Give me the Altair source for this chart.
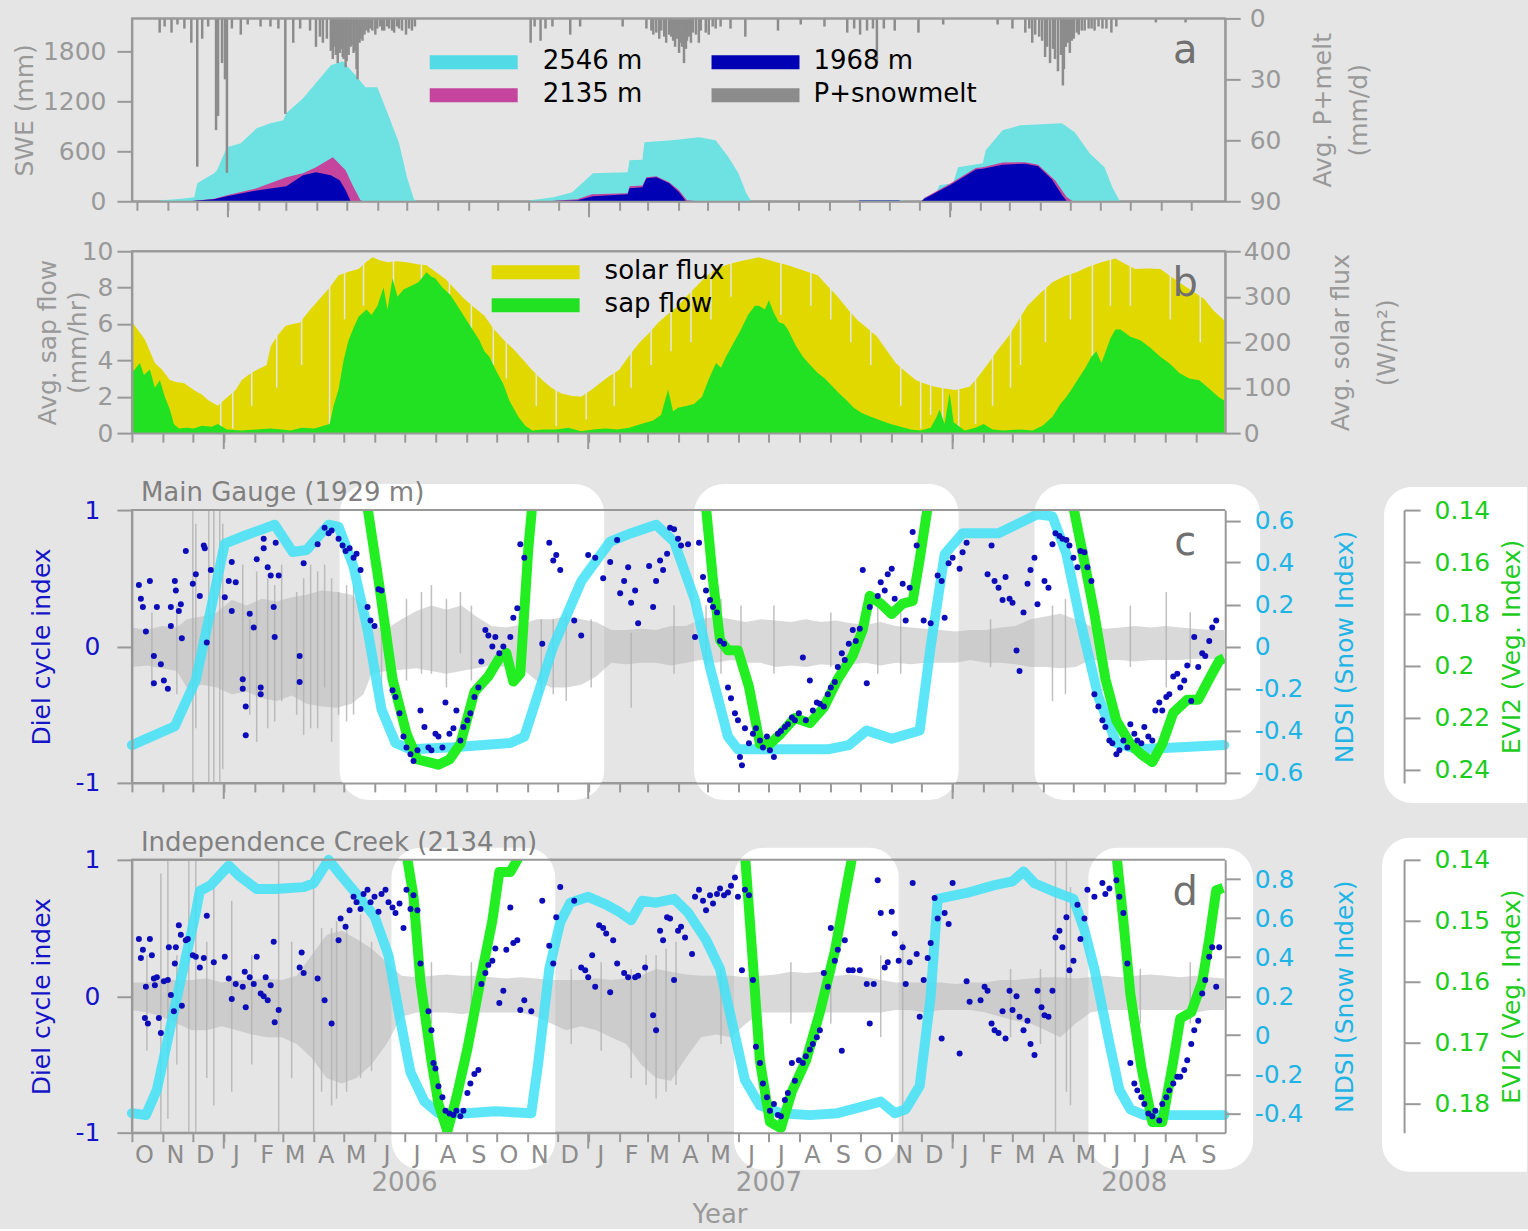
import altair as alt
import pandas as pd

FONT = "DejaVu Sans"
BG = "#E5E5E5"
FRAME = "#999999"
TXT = "#999999"
W = 1094
H_A, H_B, H_C, H_D = 183, 182, 273, 273

C_2546, C_2135, C_1968, C_P = "#6EE2E2", "#C4449E", "#0000B4", "#8C8C8C"
C_SOLAR, C_SAP = "#E1D800", "#22E122"
C_NDSI, C_NDSI_TXT = "#40E2F7", "#1EB4E6"
C_EVI, C_EVI_TXT = "#22EE22", "#1ECC1E"
C_DOT, C_DIEL_TXT = "#0C0CB8", "#1414C8"

# day 0 of the record = 1 Oct 2005 (start of water year 2006)
START = pd.Timestamp("2005-10-01")

# ---------------- panel a: snow water equivalent (mm) and P+snowmelt (mm/d)
SWE_2546 = [(0, 0), (22, 4), (25, 12), (45, 30), (58, 48), (61, 216), (78, 336), (81, 372), (91, 648),
            (105, 696), (121, 876), (135, 936), (148, 972), (151, 1056), (168, 1236), (185, 1476),
            (196, 1632), (208, 1680), (221, 1512), (231, 1368), (243, 1368), (255, 1008), (265, 696),
            (273, 288), (280, 24), (283, 0), (395, 0), (398, 12), (421, 48), (440, 108), (451, 228),
            (461, 336), (496, 348), (498, 492), (511, 500), (513, 708), (541, 732), (568, 768),
            (585, 732), (598, 528), (608, 336), (616, 96), (621, 0), (728, 0), (731, 8), (775, 8),
            (778, 0), (793, 0), (796, 48), (808, 96), (811, 192), (825, 216), (830, 408), (855, 456),
            (858, 612), (875, 852), (893, 912), (935, 936), (948, 828), (963, 576), (978, 408),
            (986, 168), (993, 12), (996, 0), (1094, 0)]
SWE_2135 = [(0, 0), (55, 0), (58, 5), (78, 30), (91, 72), (121, 156), (151, 288), (168, 336), (181, 408),
            (198, 528), (211, 372), (218, 192), (226, 12), (229, 0), (418, 0), (421, 5), (445, 24),
            (460, 84), (496, 96), (498, 180), (511, 190), (515, 288), (525, 300), (538, 228),
            (548, 132), (556, 12), (568, 0), (793, 0), (796, 40), (823, 220), (848, 400), (855, 410),
            (875, 465), (898, 470), (911, 440), (928, 252), (940, 48), (946, 0), (1094, 0)]
SWE_1968 = [(0, 0), (55, 0), (58, 5), (78, 24), (91, 60), (121, 130), (151, 180), (168, 312), (181, 348),
            (196, 312), (205, 252), (211, 132), (216, 0), (418, 0), (421, 3), (445, 12), (461, 60),
            (496, 84), (498, 156), (511, 168), (515, 276), (525, 288), (538, 216), (548, 108),
            (555, 0), (728, 0), (731, 10), (770, 10), (773, 0), (793, 0), (796, 30), (823, 200),
            (848, 380), (855, 390), (875, 440), (898, 452), (911, 420), (925, 260), (936, 60),
            (940, 0), (1094, 0)]
PRECIP = [(23, 7), (28, 4), (35, 7), (41, 3), (48, 5), (55, 12), (61, 73), (66, 10), (72, 4), (80, 55),
          (82, 48), (86, 22), (89, 30), (91, 76), (96, 5), (105, 8), (112, 3), (125, 4), (135, 4),
          (143, 5), (150, 47), (158, 12), (165, 5), (175, 6), (181, 14), (185, 9), (188, 12), (192, 10),
          (196, 16), (198, 20), (200, 14), (201, 18), (203, 22), (205, 17), (206, 15), (208, 19),
          (209, 20), (211, 24), (212, 21), (214, 18), (216, 14), (217, 13), (219, 17), (220, 16),
          (222, 25), (223, 30), (225, 12), (226, 10), (228, 11), (230, 8), (232, 6), (234, 7), (236, 5),
          (238, 6), (241, 8), (243, 5), (246, 4), (248, 6), (250, 6), (253, 4), (255, 5), (258, 6),
          (260, 7), (263, 4), (265, 5), (268, 6), (272, 8), (275, 5), (278, 6), (281, 4),
          (398, 12), (402, 4), (408, 11), (413, 5), (420, 4), (438, 8), (448, 4), (491, 4), (515, 5),
          (520, 6), (522, 8), (525, 7), (528, 10), (530, 6), (533, 9), (535, 12), (538, 8), (540, 9),
          (542, 11), (544, 14), (546, 10), (548, 17), (550, 12), (551, 14), (553, 22), (555, 15),
          (556, 11), (558, 9), (560, 12), (562, 7), (565, 8), (568, 12), (570, 6), (575, 7), (578, 8),
          (582, 4), (585, 5), (590, 4), (600, 5), (615, 9), (648, 6), (671, 3), (695, 4), (718, 7),
          (725, 5), (731, 8), (738, 6), (744, 5), (748, 22), (755, 5), (766, 6), (790, 7), (815, 3),
          (870, 3), (885, 5), (898, 7), (902, 5), (905, 12), (908, 8), (912, 9), (915, 11), (918, 19),
          (920, 14), (923, 22), (926, 15), (928, 20), (931, 26), (934, 18), (936, 33), (937, 25),
          (939, 14), (941, 12), (943, 17), (945, 11), (947, 10), (950, 7), (952, 8), (955, 6), (958, 6),
          (962, 5), (965, 5), (968, 6), (972, 4), (976, 5), (980, 5), (985, 7), (990, 4), (1030, 2),
          (1060, 2)]

# ---------------- panel b: sap flow (mm/hr) and solar flux (W/m2)
SOLAR = [(0, 245), (13, 206), (23, 154), (30, 140), (38, 117), (45, 112), (52, 110), (62, 95), (70, 85),
         (76, 73), (86, 60), (96, 80), (104, 95), (110, 117), (118, 130), (125, 139), (135, 150),
         (139, 191), (146, 215), (154, 236), (161, 240), (168, 243), (178, 270), (188, 295),
         (198, 320), (207, 347), (217, 355), (227, 361), (234, 375), (241, 387), (248, 380),
         (256, 376), (265, 378), (275, 376), (285, 372), (295, 369), (304, 355), (314, 339),
         (323, 318), (333, 295), (343, 276), (353, 258), (362, 230), (372, 206), (382, 185),
         (392, 161), (401, 138), (411, 117), (420, 100), (430, 87), (440, 82), (450, 80), (460, 95),
         (469, 110), (478, 125), (488, 139), (498, 170), (508, 198), (518, 220), (527, 243),
         (537, 262), (547, 280), (556, 302), (566, 324), (575, 345), (585, 361), (595, 370),
         (605, 376), (614, 380), (628, 387), (642, 378), (657, 369), (672, 358), (687, 347),
         (696, 325), (706, 302), (716, 275), (726, 250), (736, 232), (746, 213), (755, 185),
         (765, 154), (775, 135), (785, 117), (795, 108), (804, 102), (814, 98), (824, 95), (832, 98),
         (839, 102), (848, 125), (858, 154), (868, 185), (878, 213), (888, 248), (897, 280),
         (910, 308), (922, 332), (934, 345), (946, 354), (958, 366), (971, 376), (985, 384),
         (995, 372), (1005, 361), (1018, 362), (1030, 361), (1042, 342), (1054, 324), (1064, 310),
         (1074, 295), (1083, 270), (1094, 248)]
# cloudy days: daily solar flux well below the seasonal envelope
SOLAR_DIPS = [(89, 5), (101, 10), (120, 60), (145, 100), (170, 150), (198, 10), (213, 250), (232, 280),
              (262, 300), (290, 280), (318, 250), (340, 200), (362, 150), (375, 120), (405, 60),
              (425, 15), (455, 30), (483, 60), (500, 100), (520, 150), (540, 180), (560, 200),
              (580, 250), (600, 300), (650, 260), (680, 280), (700, 250), (720, 200), (740, 150),
              (770, 60), (790, 10), (800, 40), (812, 5), (828, 10), (845, 20), (862, 60), (880, 100),
              (890, 150), (915, 200), (940, 250), (962, 150), (980, 280), (1000, 280), (1040, 250),
              (1070, 200)]
SAP = [(0, 3.3), (8, 3.85), (12, 3.2), (18, 3.5), (23, 2.5), (28, 2.9), (33, 2.0), (38, 1.3), (42, 0.5),
       (47, 0.25), (55, 0.3), (62, 0.25), (70, 0.4), (80, 0.35), (86, 0.5), (95, 0.2), (110, 0.15),
       (125, 0.2), (139, 0.25), (150, 0.2), (159, 0.15), (170, 0.3), (183, 0.25), (192, 0.4),
       (198, 0.5), (202, 1.5), (207, 2.4), (212, 4.0), (217, 5.1), (222, 5.8), (227, 6.4), (235, 6.8),
       (240, 6.5), (246, 7.0), (252, 8.0), (256, 6.8), (261, 8.5), (266, 7.5), (272, 7.9), (280, 8.1),
       (287, 8.3), (295, 8.85), (300, 8.6), (304, 8.5), (311, 8.0), (319, 7.6), (326, 7.0),
       (333, 6.4), (340, 5.8), (348, 5.1), (353, 4.5), (358, 4.2), (365, 3.4), (372, 2.7), (378, 1.8),
       (387, 0.9), (394, 0.4), (401, 0.15), (412, 0.2), (425, 0.2), (437, 0.3), (450, 0.1),
       (462, 0.2), (474, 0.25), (486, 0.2), (498, 0.3), (510, 0.5), (522, 0.7), (530, 1.0),
       (537, 2.4), (542, 1.2), (547, 1.4), (556, 1.5), (563, 1.6), (571, 2.0), (578, 3.0), (585, 3.85),
       (590, 3.6), (595, 4.2), (603, 5.0), (610, 5.7), (617, 6.5), (624, 7.0), (628, 7.0), (634, 6.8),
       (638, 7.3), (643, 6.6), (648, 6.1), (653, 6.0), (657, 5.7), (665, 4.8), (672, 4.2), (680, 3.7),
       (687, 3.3), (694, 3.0), (701, 2.6), (708, 2.2), (716, 1.8), (723, 1.4), (731, 1.1), (740, 0.9),
       (750, 0.7), (760, 0.5), (770, 0.35), (780, 0.2), (790, 0.15), (800, 0.3), (806, 0.9),
       (809, 1.3), (814, 0.5), (819, 2.2), (823, 0.6), (834, 0.15), (845, 0.3), (853, 0.5),
       (862, 0.2), (873, 0.15), (890, 0.2), (902, 0.15), (912, 0.4), (922, 0.9), (930, 1.6),
       (936, 2.0), (941, 2.4), (948, 3.0), (955, 3.6), (961, 4.2), (966, 4.5), (971, 3.85),
       (976, 4.6), (980, 5.2), (985, 5.7), (990, 5.7), (995, 5.5), (1000, 5.3), (1010, 5.1),
       (1020, 4.7), (1030, 4.2), (1040, 3.8), (1049, 3.3), (1059, 3.0), (1069, 2.9), (1078, 2.5),
       (1088, 2.0), (1094, 1.8)]

# ---------------- panel c: Main Gauge (1929 m)
DIEL_C = [(7, 0.45), (9, 0.35), (11, 0.29), (14, 0.11), (18, 0.48), (22, -0.07), (22, -0.27), (25, 0.29),
          (29, -0.13), (32, -0.25), (36, -0.31), (39, 0.29), (39, 0.15), (43, 0.48), (44, 0.41),
          (47, 0.26), (49, 0.31), (50, 0.06), (54, 0.70), (61, 0.46), (64, 0.53), (68, 0.37),
          (72, 0.74), (73, 0.72), (75, 0.03), (79, 0.56), (93, 0.36), (97, 0.48), (100, 0.62),
          (100, 0.26), (104, 0.47), (111, -0.24), (111, -0.31), (114, -0.44), (114, -0.65),
          (118, 0.24), (122, 0.14), (125, 0.64), (129, -0.30), (129, -0.35), (132, 0.79), (132, 0.72),
          (136, 0.58), (139, 0.52), (142, 0.29), (143, 0.07), (144, 0.76), (147, 0.52), (168, -0.07),
          (168, -0.26), (172, 0.61), (186, 0.75), (193, 0.87), (197, 0.83), (200, 0.85), (207, 0.79),
          (211, 0.74), (214, 0.70), (218, 0.72), (222, 0.65), (225, 0.68), (229, 0.56), (236, 0.29),
          (239, 0.19), (243, 0.15), (247, 0.42), (250, 0.41), (261, -0.32), (264, -0.37),
          (268, -0.49), (272, -0.66), (275, -0.74), (279, -0.79), (282, -0.84), (286, -0.76),
          (289, -0.47), (293, -0.59), (297, -0.74), (300, -0.76), (304, -0.64), (307, -0.66),
          (311, -0.74), (314, -0.41), (318, -0.64), (322, -0.60), (325, -0.47), (329, -0.69),
          (332, -0.59), (336, -0.54), (339, -0.49), (343, -0.37), (347, -0.30), (350, -0.11),
          (354, 0.12), (357, 0.08), (361, 0.00), (364, 0.07), (368, -0.05), (372, 0.00), (379, 0.07),
          (382, 0.21), (386, 0.28), (389, 0.75), (393, 0.65), (411, 0.02), (418, 0.76), (422, 0.63),
          (425, 0.67), (429, 0.56), (443, 0.19), (450, 0.08), (457, 0.67), (464, 0.65), (472, 0.50),
          (479, 0.62), (486, 0.78), (489, 0.39), (493, 0.48), (497, 0.58), (500, 0.32), (504, 0.41),
          (507, 0.17), (518, 0.59), (522, 0.29), (525, 0.48), (529, 0.63), (532, 0.56), (536, 0.68),
          (539, 0.87), (543, 0.86), (547, 0.79), (550, 0.74), (557, 0.75), (564, 0.07), (568, 0.76),
          (572, 0.51), (575, 0.41), (579, 0.34), (582, 0.29), (586, 0.25), (589, 0.04), (593, 0.02),
          (597, -0.30), (600, -0.38), (604, -0.49), (607, -0.54), (609, -0.81), (611, -0.87),
          (614, -0.60), (618, -0.71), (622, -0.64), (625, -0.60), (629, -0.69), (632, -0.74),
          (636, -0.66), (639, -0.76), (643, -0.81), (647, -0.64), (650, -0.62), (654, -0.59),
          (657, -0.57), (661, -0.52), (664, -0.54), (668, -0.49), (672, -0.08), (675, -0.54),
          (679, -0.25), (682, -0.47), (686, -0.41), (689, -0.42), (693, -0.44), (697, -0.35),
          (700, -0.30), (704, -0.26), (707, -0.15), (711, -0.05), (714, -0.10), (718, 0.02),
          (722, 0.12), (725, 0.04), (729, 0.13), (732, 0.56), (736, -0.27), (739, 0.29), (747, 0.37),
          (750, 0.47), (754, 0.41), (757, 0.53), (761, 0.57), (764, 0.35), (772, 0.46), (775, 0.19),
          (779, 0.43), (782, 0.84), (786, 0.74), (793, 0.19), (800, 0.17), (807, 0.52), (811, 0.48),
          (814, 0.21), (818, 0.61), (822, 0.65), (829, 0.57), (832, 0.69), (836, 0.76), (857, 0.53),
          (861, 0.74), (864, 0.48), (868, 0.43), (872, 0.34), (875, 0.51), (879, 0.35), (882, 0.32),
          (886, -0.03), (889, -0.18), (893, 0.25), (897, 0.46), (900, 0.56), (904, 0.65), (907, 0.31),
          (914, 0.48), (918, 0.43), (922, 0.75), (925, 0.83), (929, 0.81), (932, 0.79), (936, 0.78),
          (939, 0.74), (943, 0.65), (947, 0.58), (950, 0.70), (954, 0.69), (957, 0.58), (961, 0.48),
          (964, -0.35), (968, -0.44), (972, -0.54), (975, -0.59), (979, -0.69), (982, -0.71),
          (986, -0.79), (989, -0.76), (993, -0.69), (997, -0.74), (1000, -0.57), (1004, -0.64),
          (1007, -0.69), (1011, -0.71), (1014, -0.59), (1018, -0.66), (1022, -0.69), (1025, -0.47),
          (1029, -0.41), (1032, -0.47), (1036, -0.37), (1039, -0.35), (1043, -0.22), (1047, -0.20),
          (1050, -0.30), (1054, -0.25), (1057, -0.14), (1061, -0.40), (1064, 0.07), (1068, -0.15),
          (1072, -0.05), (1075, -0.07), (1079, 0.04), (1082, 0.14), (1086, 0.19)]
NDSI_C = [(0, -0.47), (43, -0.38), (64, -0.16), (93, 0.49), (114, 0.53), (143, 0.58), (161, 0.45),
          (175, 0.46), (197, 0.58), (207, 0.57), (222, 0.38), (236, 0.08), (250, -0.30), (264, -0.46),
          (279, -0.49), (322, -0.48), (379, -0.46), (393, -0.43), (422, 0.0), (450, 0.31), (479, 0.50),
          (500, 0.54), (525, 0.58), (543, 0.50), (564, 0.22), (579, -0.10), (597, -0.43), (607, -0.49),
          (636, -0.49), (697, -0.49), (718, -0.47), (736, -0.40), (761, -0.44), (789, -0.40), (800, 0.0),
          (814, 0.44), (832, 0.54), (868, 0.54), (907, 0.63), (922, 0.62), (936, 0.44), (950, 0.12),
          (968, -0.24), (986, -0.46), (1007, -0.49), (1050, -0.48), (1094, -0.47)]
EVI_C = {
    "2006": [(236, 0.139), (247, 0.167), (261, 0.205), (275, 0.226), (286, 0.236), (297, 0.237),
             (307, 0.238), (318, 0.236), (329, 0.230), (343, 0.210), (357, 0.204), (368, 0.197),
             (375, 0.195), (382, 0.206), (389, 0.203), (397, 0.155), (401, 0.138)],
    "2007": [(575, 0.139), (582, 0.167), (589, 0.190), (597, 0.194), (607, 0.194), (618, 0.208),
             (629, 0.230), (639, 0.230), (650, 0.226), (664, 0.220), (679, 0.222), (693, 0.216),
             (707, 0.205), (722, 0.196), (732, 0.186), (739, 0.173), (750, 0.176), (761, 0.180),
             (772, 0.176), (782, 0.175), (789, 0.159), (797, 0.139)],
    "2008": [(943, 0.139), (954, 0.160), (964, 0.180), (975, 0.205), (986, 0.221), (1000, 0.230),
             (1011, 0.234), (1022, 0.237), (1032, 0.230), (1043, 0.218), (1057, 0.213), (1068, 0.213),
             (1079, 0.205), (1089, 0.198), (1094, 0.197)],
}
# high-frequency diel signal: envelope (day, upper, lower) and isolated spikes (day, lower, upper)
DIEL_ENV_C = [(0, 0.14, -0.15), (15, 0.12, -0.14), (30, 0.15, -0.16), (45, 0.14, -0.18), (55, 0.2, -0.3),
              (70, 0.22, -0.28), (85, 0.25, -0.3), (100, 0.34, -0.35), (115, 0.3, -0.33),
              (130, 0.35, -0.38), (145, 0.33, -0.4), (160, 0.36, -0.36), (175, 0.38, -0.42),
              (190, 0.41, -0.44), (205, 0.4, -0.45), (220, 0.38, -0.42), (232, 0.3, -0.35),
              (240, 0.15, -0.2), (255, 0.13, -0.18), (270, 0.2, -0.17), (285, 0.26, -0.16),
              (300, 0.3, -0.18), (315, 0.27, -0.2), (330, 0.3, -0.18), (345, 0.22, -0.16),
              (360, 0.15, -0.14), (375, 0.14, -0.15), (390, 0.16, -0.16), (405, 0.2, -0.25),
              (420, 0.2, -0.3), (435, 0.22, -0.3), (450, 0.2, -0.28), (465, 0.18, -0.22),
              (480, 0.12, -0.12), (495, 0.12, -0.13), (510, 0.13, -0.12), (525, 0.12, -0.12),
              (540, 0.15, -0.14), (555, 0.15, -0.12), (570, 0.2, -0.1), (585, 0.22, -0.12),
              (600, 0.2, -0.1), (615, 0.18, -0.12), (630, 0.2, -0.12), (645, 0.19, -0.15),
              (660, 0.18, -0.14), (675, 0.2, -0.15), (690, 0.18, -0.13), (705, 0.19, -0.14),
              (720, 0.17, -0.13), (735, 0.16, -0.12), (750, 0.18, -0.14), (765, 0.15, -0.12),
              (780, 0.14, -0.13), (795, 0.13, -0.12), (810, 0.12, -0.12), (825, 0.11, -0.12),
              (840, 0.12, -0.1), (855, 0.12, -0.12), (870, 0.14, -0.12), (885, 0.15, -0.13),
              (900, 0.2, -0.15), (915, 0.22, -0.15), (930, 0.24, -0.16), (945, 0.2, -0.15),
              (960, 0.15, -0.1), (975, 0.13, -0.1), (990, 0.14, -0.1), (1005, 0.15, -0.11),
              (1020, 0.14, -0.1), (1035, 0.15, -0.1), (1050, 0.14, -0.1), (1065, 0.13, -0.09),
              (1080, 0.12, -0.09), (1094, 0.12, -0.1)]
DIEL_SPIKES_C = [(20, -0.3, 0.25), (45, -0.35, 0.3), (61, -1, 1), (64, -0.6, 0.9), (77, -1, 1), (82, -1, 1),
                 (88, -1, 1), (91, -0.9, 0.9), (111, -0.3, 0.6), (118, -0.5, 0.2), (125, -0.7, 0.55),
                 (136, -0.6, 0.5), (143, -0.55, 0.45), (150, -0.4, 0.6), (165, -0.5, 0.4),
                 (172, -0.65, 0.5), (179, -0.6, 0.6), (186, -0.6, 0.55), (193, -0.3, 0.6),
                 (200, -0.7, 0.5), (207, -0.5, 0.4), (215, -0.55, 0.45), (222, -0.5, 0.45),
                 (250, -0.3, 0.2), (275, -0.25, 0.35), (290, -0.2, 0.4), (300, -0.2, 0.45),
                 (315, -0.3, 0.35), (329, -0.05, 0.4), (340, -0.25, 0.3), (410, -0.35, 0.2),
                 (422, -0.35, 0.2), (435, -0.4, 0.25), (460, -0.3, 0.2), (500, -0.45, 0.1),
                 (543, -0.2, 0.3), (575, -0.15, 0.3), (590, -0.2, 0.35), (610, -0.15, 0.3),
                 (643, -0.2, 0.3), (700, -0.15, 0.25), (747, -0.2, 0.3), (770, -0.2, 0.25),
                 (860, -0.15, 0.2), (922, -0.4, 0.3), (935, -0.35, 0.35), (1000, -0.15, 0.3),
                 (1036, -0.3, 0.4), (1060, -0.15, 0.25)]
# highlighted windows (start day, end day)
BOXES_C = [(208, 473), (563, 828), (904, 1130)]

# ---------------- panel d: Independence Creek (2134 m)
DIEL_D = [(7, 0.42), (9, 0.28), (11, 0.34), (13, -0.16), (14, 0.07), (16, -0.20), (18, 0.42), (20, 0.30),
          (22, 0.13), (23, 0.08), (25, 0.14), (27, -0.16), (29, -0.27), (32, 0.11), (36, 0.12),
          (37, 0.36), (39, 0.01), (42, -0.11), (43, 0.24), (44, 0.36), (47, 0.52), (49, 0.45),
          (50, -0.07), (54, 0.41), (56, 0.42), (61, 0.30), (64, 0.29), (68, 0.21), (72, 0.28),
          (75, 0.59), (82, 0.25), (93, 0.29), (97, 0.13), (100, -0.02), (104, 0.09), (111, 0.07),
          (113, 0.18), (114, -0.08), (118, 0.14), (122, 0.09), (125, 0.29), (129, 0.02), (132, 0.00),
          (134, 0.14), (136, -0.03), (139, 0.08), (142, 0.40), (143, -0.19), (147, -0.10), (168, 0.21),
          (170, 0.32), (172, 0.17), (186, 0.13), (193, -0.03), (200, -0.20), (207, 0.41), (209, 0.57),
          (214, 0.51), (218, 0.63), (222, 0.73), (225, 0.69), (229, 0.64), (232, 0.75), (236, 0.78),
          (239, 0.69), (243, 0.73), (247, 0.62), (250, 0.75), (254, 0.78), (257, 0.69), (261, 0.65),
          (264, 0.61), (268, 0.68), (272, 0.50), (275, 0.78), (279, 0.64), (282, 0.74), (286, 0.63),
          (289, 0.24), (297, -0.11), (300, -0.25), (302, -0.49), (304, -0.53), (307, -0.66),
          (311, -0.74), (314, -0.84), (318, -0.86), (322, -0.87), (325, -0.84), (329, -0.88),
          (332, -0.84), (336, -0.71), (339, -0.64), (343, -0.57), (347, -0.54), (350, 0.09),
          (354, 0.17), (357, 0.23), (361, 0.26), (364, 0.35), (368, -0.05), (372, 0.04), (375, 0.34),
          (379, 0.65), (382, 0.39), (386, 0.41), (389, -0.10), (393, -0.03), (400, -0.11), (411, 0.70),
          (418, 0.37), (422, 0.24), (425, 0.58), (429, 0.80), (443, 0.70), (450, 0.21), (454, 0.19),
          (457, 0.14), (461, 0.30), (464, 0.07), (468, 0.52), (472, 0.50), (475, 0.46), (479, 0.03),
          (482, 0.41), (486, 0.24), (493, 0.17), (497, 0.14), (504, 0.14), (507, 0.15), (514, 0.21),
          (522, -0.14), (525, -0.25), (529, 0.48), (532, 0.41), (536, 0.58), (539, 0.57), (543, 0.12),
          (547, 0.48), (550, 0.51), (554, 0.43), (561, 0.31), (564, 0.73), (568, 0.78), (572, 0.70),
          (575, 0.63), (579, 0.74), (582, 0.68), (586, 0.75), (589, 0.79), (593, 0.74), (597, 0.76),
          (600, 0.81), (604, 0.87), (607, 0.73), (611, 0.19), (614, 0.78), (618, 0.74), (622, 0.12),
          (625, -0.37), (629, -0.49), (632, -0.64), (636, -0.74), (639, -0.84), (643, -0.79),
          (647, -0.87), (650, -0.88), (654, -0.76), (657, -0.71), (661, -0.49), (664, -0.62),
          (668, -0.47), (672, -0.49), (675, -0.44), (679, -0.39), (682, -0.35), (686, -0.30),
          (689, -0.25), (693, 0.17), (697, 0.07), (700, 0.50), (704, 0.26), (707, 0.34), (711, -0.40),
          (714, 0.41), (718, 0.19), (722, 0.19), (729, 0.19), (736, 0.09), (739, -0.20), (743, 0.09),
          (747, 0.85), (750, 0.61), (754, 0.21), (757, 0.25), (761, 0.62), (764, 0.46), (768, 0.26),
          (772, 0.36), (775, 0.09), (779, 0.25), (782, 0.83), (786, 0.31), (789, -0.15), (793, 0.12),
          (797, 0.28), (800, 0.39), (804, 0.72), (807, 0.57), (811, -0.31), (814, 0.61), (818, 0.53),
          (822, 0.83), (829, -0.42), (836, 0.11), (839, -0.04), (850, -0.03), (854, 0.07), (857, 0.04),
          (861, -0.20), (864, -0.25), (868, -0.27), (872, -0.11), (875, -0.31), (879, 0.04),
          (882, -0.10), (886, 0.00), (889, -0.15), (893, -0.25), (897, -0.18), (900, -0.35),
          (904, -0.43), (907, 0.04), (911, -0.08), (914, -0.14), (918, -0.15), (922, 0.04), (925, 0.43),
          (929, 0.48), (932, 0.36), (936, 0.58), (939, 0.19), (943, 0.26), (947, 0.67), (950, 0.42),
          (954, 0.57), (957, 0.78), (964, 0.73), (972, 0.83), (975, 0.75), (979, 0.79), (986, 0.85),
          (989, 0.73), (993, 0.61), (997, 0.24), (1000, -0.49), (1004, -0.64), (1007, -0.69),
          (1011, -0.74), (1014, -0.79), (1018, -0.86), (1022, -0.88), (1025, -0.84), (1029, -0.91),
          (1032, -0.79), (1036, -0.74), (1039, -0.69), (1043, -0.64), (1047, -0.59), (1050, -0.59),
          (1054, -0.54), (1057, -0.47), (1061, -0.35), (1064, -0.25), (1068, -0.18), (1072, 0.02),
          (1075, 0.12), (1079, 0.29), (1082, 0.36), (1086, 0.07), (1089, 0.36)]
NDSI_D = [(0, -0.40), (14, -0.41), (25, -0.28), (47, 0.24), (64, 0.63), (68, 0.74), (79, 0.77), (97, 0.87),
          (107, 0.82), (125, 0.75), (143, 0.75), (172, 0.76), (182, 0.78), (197, 0.90), (211, 0.81),
          (229, 0.70), (243, 0.61), (257, 0.41), (268, 0.10), (279, -0.19), (293, -0.34), (307, -0.40),
          (336, -0.40), (364, -0.39), (400, -0.40), (407, -0.14), (418, 0.34), (429, 0.58), (439, 0.68),
          (457, 0.71), (475, 0.67), (489, 0.63), (500, 0.59), (511, 0.69), (525, 0.68), (543, 0.70),
          (557, 0.63), (575, 0.49), (589, 0.34), (604, 0.0), (614, -0.23), (629, -0.36), (650, -0.40),
          (679, -0.41), (707, -0.40), (736, -0.36), (750, -0.34), (764, -0.40), (775, -0.38),
          (789, -0.26), (800, 0.20), (807, 0.70), (836, 0.73), (864, 0.77), (882, 0.79), (893, 0.84),
          (904, 0.78), (922, 0.74), (943, 0.70), (954, 0.54), (964, 0.34), (979, -0.04), (989, -0.28),
          (1000, -0.38), (1014, -0.41), (1050, -0.41), (1094, -0.41)]
EVI_D = {
    "2006": [(275, 0.139), (282, 0.146), (289, 0.160), (300, 0.173), (307, 0.180), (316, 0.1845),
             (325, 0.179), (336, 0.171), (350, 0.159), (361, 0.150), (368, 0.142), (379, 0.142),
             (386, 0.140), (389, 0.139)],
    "2007": [(614, 0.139), (622, 0.157), (629, 0.173), (639, 0.183), (650, 0.184), (661, 0.178),
             (675, 0.173), (689, 0.165), (704, 0.155), (714, 0.146), (722, 0.139)],
    "2008": [(986, 0.139), (993, 0.150), (1000, 0.162), (1011, 0.174), (1022, 0.183), (1032, 0.183),
             (1043, 0.173), (1050, 0.166), (1061, 0.165), (1072, 0.160), (1079, 0.153), (1086, 0.145),
             (1093, 0.1446)],
}
DIEL_ENV_D = [(0, 0.1, -0.1), (15, 0.1, -0.12), (30, 0.12, -0.15), (45, 0.12, -0.2), (60, 0.12, -0.25),
              (75, 0.13, -0.25), (90, 0.1, -0.22), (105, 0.12, -0.25), (120, 0.12, -0.28),
              (135, 0.13, -0.3), (150, 0.12, -0.3), (165, 0.15, -0.35), (180, 0.3, -0.45),
              (195, 0.45, -0.6), (210, 0.48, -0.64), (225, 0.42, -0.6), (240, 0.35, -0.5),
              (255, 0.25, -0.35), (270, 0.15, -0.15), (285, 0.14, -0.12), (300, 0.15, -0.12),
              (315, 0.16, -0.12), (330, 0.15, -0.13), (345, 0.15, -0.12), (360, 0.14, -0.12),
              (375, 0.13, -0.12), (390, 0.14, -0.12), (405, 0.13, -0.15), (420, 0.12, -0.2),
              (435, 0.12, -0.25), (450, 0.12, -0.22), (465, 0.13, -0.25), (480, 0.12, -0.3),
              (495, 0.13, -0.35), (510, 0.15, -0.5), (525, 0.2, -0.6), (540, 0.18, -0.62),
              (555, 0.16, -0.45), (570, 0.15, -0.3), (585, 0.15, -0.28), (600, 0.15, -0.3),
              (615, 0.14, -0.2), (630, 0.15, -0.12), (645, 0.16, -0.12), (660, 0.18, -0.12),
              (675, 0.17, -0.12), (690, 0.18, -0.12), (705, 0.15, -0.12), (720, 0.16, -0.12),
              (735, 0.14, -0.12), (750, 0.12, -0.12), (765, 0.1, -0.1), (780, 0.1, -0.1),
              (795, 0.1, -0.12), (810, 0.1, -0.1), (825, 0.09, -0.1), (840, 0.1, -0.1),
              (855, 0.1, -0.12), (870, 0.12, -0.15), (885, 0.12, -0.18), (900, 0.13, -0.2),
              (915, 0.14, -0.25), (930, 0.14, -0.3), (945, 0.13, -0.2), (960, 0.14, -0.12),
              (975, 0.15, -0.1), (990, 0.14, -0.1), (1005, 0.15, -0.1), (1020, 0.16, -0.1),
              (1035, 0.15, -0.1), (1050, 0.14, -0.1), (1065, 0.15, -0.12), (1080, 0.14, -0.1),
              (1094, 0.13, -0.1)]
DIEL_SPIKES_D = [(15, -0.4, 0.3), (29, -1, 0.9), (36, -0.9, 1), (45, -0.5, 0.3), (57, -1, 1), (64, -1, 1),
                 (75, -0.6, 0.4), (82, -0.8, 0.8), (100, -0.7, 0.7), (120, -0.5, 0.3), (147, -1, 1),
                 (160, -0.6, 0.4), (182, -1, 1), (190, -0.7, 0.5), (200, -0.8, 0.5), (205, -0.75, 0.55),
                 (215, -0.7, 0.5), (229, -0.6, 0.6), (240, -0.55, 0.4), (300, -0.2, 0.25),
                 (340, -0.2, 0.25), (440, -0.35, 0.2), (470, -0.4, 0.25), (500, -0.6, 0.2),
                 (515, -0.65, 0.3), (525, -0.75, 0.3), (535, -0.7, 0.35), (545, -0.65, 0.4),
                 (590, -0.35, 0.2), (660, -0.2, 0.25), (700, -0.2, 0.25), (750, -0.3, 0.3),
                 (772, -1, 0.4), (880, -0.3, 0.2), (910, -0.35, 0.2), (925, -1, 1), (936, -0.7, 1),
                 (940, -0.8, 0.8), (1010, -0.2, 0.2), (1060, -0.2, 0.25)]
BOXES_D = [(260, 424), (603, 768), (958, 1123)]

YEAR_LABELS = [(273, "2006"), (638, "2007"), (1004, "2008")]   # centred on 1 July
YEAR_STARTS = [92, 457, 822]                                      # 1 January


def frame(rows, *names):
    df = pd.DataFrame(rows, columns=list(names))
    df["date"] = START + pd.to_timedelta(df["day"], unit="D")
    return df


def segments(table):
    parts = []
    for seg, rows in table.items():
        part = frame(rows, "day", "v")
        part["seg"] = seg
        parts.append(part)
    return pd.concat(parts, ignore_index=True)


def boxes(rows):
    df = frame(rows, "day", "day_end")
    df["date_end"] = START + pd.to_timedelta(df["day_end"], unit="D")
    return df


ONE = pd.DataFrame({"k": [0]})
XSCALE = alt.Scale(domain=[alt.DateTime(year=2005, month=10, date=1),
                           alt.DateTime(year=2008, month=9, date=30)])
MONTH_TICKS = [alt.DateTime(year=t.year, month=t.month, date=1)
               for t in pd.date_range("2005-10-01", "2008-09-01", freq="MS")]
NUM_EXPR = "datum.value < 0 ? '-' + format(-datum.value, '~g') : format(datum.value, '~g')"


def x_axis(labels=False, title=None):
    return alt.Axis(values=MONTH_TICKS, tickSize=9, tickColor=FRAME, tickWidth=2, domainColor=FRAME,
                    domainWidth=2, labels=labels,
                    labelExpr="substring(timeFormat(datum.value, '%b'), 0, 1)", labelOffset=12,
                    labelPadding=2, labelFontSize=24, labelColor="#8C8C8C", labelFlush=False,
                    labelOverlap=False, labelBound=False, grid=False, zindex=1, title=title,
                    titleX=588, titleY=82, titleAlign="center", titleBaseline="middle",
                    titleFontSize=26, titleColor=TXT, titleFontWeight="normal")


def y_axis(orient, values, title, color, title_x, title_y, label_pad, line_height=30, offset=0,
           tick_size=15):
    return alt.Axis(orient=orient, values=values, title=title, labelExpr=NUM_EXPR, labelColor=color,
                    labelFontSize=25, labelPadding=label_pad, labelOverlap=False, labelBound=False,
                    labelFlush=False, tickSize=tick_size, tickColor=FRAME, tickWidth=2,
                    domainColor=FRAME, domainWidth=2, grid=False, zindex=1, offset=offset,
                    titleColor=color, titleFontSize=25, titleFontWeight="normal", titleAngle=270,
                    titleAlign="center", titleBaseline="middle", titleLineHeight=line_height,
                    titleX=title_x, titleY=title_y)


def legend_entry(label, color, x0, yc, gap):
    swatch = alt.Chart(ONE).mark_rect(color=color).encode(
        x=alt.value(x0), x2=alt.value(x0 + 88), y=alt.value(yc - 7), y2=alt.value(yc + 7))
    text = alt.Chart(ONE).mark_text(text=label, align="left", baseline="middle", fontSize=26,
                                    color="black").encode(x=alt.value(x0 + 88 + gap),
                                                          y=alt.value(yc - 1))
    return [swatch, text]


def decorations(letter, h, xax):
    jan = alt.Chart(frame([(d,) for d in YEAR_STARTS], "day")).mark_rule(
        color=FRAME, strokeWidth=2).encode(x=alt.X("date:T", scale=XSCALE, axis=xax),
                                           y=alt.value(h), y2=alt.value(h + 16))
    top = alt.Chart(ONE).mark_rule(color=FRAME, strokeWidth=2).encode(
        x=alt.value(0), x2=alt.value(W), y=alt.value(0))
    tag = alt.Chart(ONE).mark_text(text=letter, fontSize=40, color="#707070", align="center",
                                   baseline="alphabetic").encode(x=alt.value(1054), y=alt.value(45))
    return [jan, top, tag]


def spacer(h):
    # empty row that only adds vertical room between panels
    return alt.Chart(ONE).mark_point(opacity=0).encode(
        x=alt.value(0), y=alt.value(0)).properties(width=1, height=h,
                                                   view=alt.ViewBackground(stroke="transparent"))


# ---------------- panel a
ax_a = x_axis()
Xa = lambda: alt.X("date:T", scale=XSCALE, axis=ax_a)
swe_scale = alt.Scale(domain=[0, 2196], nice=False, zero=False)
a_layers = [
    alt.Chart(frame(SWE_2546, "day", "swe")).mark_area(color=C_2546).encode(
        x=Xa(), y=alt.Y("swe:Q", scale=swe_scale,
                        axis=y_axis("left", [0, 600, 1200, 1800], "SWE (mm)", TXT, -107, H_A / 2, 11))),
    alt.Chart(frame(SWE_2135, "day", "swe")).mark_area(color=C_2135).encode(
        x=Xa(), y=alt.Y("swe:Q", scale=swe_scale, axis=None)),
    alt.Chart(frame(SWE_1968, "day", "swe")).mark_area(color=C_1968).encode(
        x=Xa(), y=alt.Y("swe:Q", scale=swe_scale, axis=None)),
    alt.Chart(frame(PRECIP, "day", "p")).mark_bar(width=2.5, color=C_P).encode(
        x=Xa(), y=alt.Y("p:Q", scale=alt.Scale(domain=[0, 90], reverse=True, nice=False),
                        axis=y_axis("right", [0, 30, 60, 90], ["Avg. P+melt", "(mm/d)"], TXT, 97,
                                    H_A / 2, 9, line_height=36))),
]
a_layers += legend_entry("2546 m", "#52DAE6", 298, 44, 25) + legend_entry("2135 m", C_2135, 298, 77, 25)
a_layers += legend_entry("1968 m", C_1968, 580, 44, 14) + legend_entry("P+snowmelt", C_P, 580, 77, 14)
a_layers += decorations("a", H_A, ax_a)
panel_a = alt.layer(*a_layers).resolve_scale(y="independent").properties(width=W, height=H_A)

# ---------------- panel b
ax_b = x_axis()
Xb = lambda: alt.X("date:T", scale=XSCALE, axis=ax_b)
solar_scale = alt.Scale(domain=[0, 400], nice=False)
sap_scale = alt.Scale(domain=[0, 10], nice=False)
b_layers = [
    alt.Chart(frame(SOLAR, "day", "w")).mark_area(color=C_SOLAR).encode(
        x=Xb(), y=alt.Y("w:Q", scale=solar_scale,
                        axis=y_axis("right", [0, 100, 200, 300, 400], ["Avg. solar flux", "(W/m²)"],
                                    TXT, 115, H_B / 2, 3, line_height=46))),
    alt.Chart(frame(SOLAR_DIPS, "day", "w")).mark_rule(color=BG, strokeWidth=1.5).encode(
        x=Xb(), y=alt.Y("w:Q", scale=solar_scale, axis=None), y2=alt.datum(395)),
    alt.Chart(frame(SAP, "day", "s")).mark_area(color=C_SAP).encode(
        x=Xb(), y=alt.Y("s:Q", scale=sap_scale,
                        axis=y_axis("left", [0, 2, 4, 6, 8, 10], ["Avg. sap flow", "(mm/hr)"], TXT,
                                    -84, H_B / 2, 4, line_height=30))),
]
b_layers += legend_entry("solar flux", C_SOLAR, 360, 21, 25) + legend_entry("sap flow", C_SAP, 360, 54, 25)
b_layers += decorations("b", H_B, ax_b)
panel_b = alt.layer(*b_layers).resolve_scale(y="independent").properties(width=W, height=H_B)


# ---------------- panels c and d
def index_panel(letter, title, h, diel, env, spikes, ndsi, evi, box_rows, ndsi_dom, ndsi_vals,
                evi_dom, evi_vals, box_y, evi_box, xax, extra=()):
    X = lambda: alt.X("date:T", scale=XSCALE, axis=xax)
    diel_scale = alt.Scale(domain=[-1, 1], nice=False)
    layers = [
        alt.Chart(boxes(box_rows)).mark_rect(color="white", cornerRadius=30).encode(
            x=X(), x2="date_end:T", y=alt.value(box_y[0]), y2=alt.value(box_y[1])),
        alt.Chart(ONE).mark_rect(color="white", cornerRadiusTopLeft=28, cornerRadiusBottomLeft=28).encode(
            x=alt.value(evi_box[0]), x2=alt.value(1396), y=alt.value(evi_box[1]), y2=alt.value(evi_box[2])),
        alt.Chart(frame(env, "day", "hi", "lo")).mark_area(color="#B4B4B4", opacity=0.5).encode(
            x=X(), y=alt.Y("hi:Q", scale=diel_scale,
                           axis=y_axis("left", [-1, 0, 1], "Diel cycle index", C_DIEL_TXT, -90, h / 2, 17)),
            y2="lo:Q"),
        alt.Chart(frame(spikes, "day", "lo", "hi")).mark_rule(color="#B0B0B0", strokeWidth=1.5,
                                                              opacity=0.8).encode(
            x=X(), y=alt.Y("hi:Q", scale=diel_scale, axis=None), y2="lo:Q"),
        alt.Chart(frame(ndsi, "day", "v")).mark_line(color=C_NDSI, strokeWidth=10, opacity=0.85,
                                                     strokeJoin="round", strokeCap="round").encode(
            x=X(), y=alt.Y("v:Q", scale=alt.Scale(domain=ndsi_dom, nice=False, zero=False),
                           axis=y_axis("right", ndsi_vals, "NDSI (Snow Index)", C_NDSI_TXT, 119, h / 2, 14))),
        alt.Chart(segments(evi)).mark_line(color=C_EVI, strokeWidth=10, clip=True,
                                           strokeJoin="round").encode(
            x=X(), y=alt.Y("v:Q", scale=alt.Scale(domain=evi_dom, reverse=True, nice=False, zero=False),
                           axis=y_axis("right", evi_vals, "EVI2 (Veg. Index)", C_EVI_TXT, 107, h / 2, 14,
                                       offset=179, tick_size=16)),
            detail="seg:N"),
        alt.Chart(frame(diel, "day", "v")).mark_circle(size=36, color=C_DOT, opacity=1).encode(
            x=X(), y=alt.Y("v:Q", scale=diel_scale, axis=None)),
        alt.Chart(ONE).mark_text(text=title, align="left", baseline="alphabetic", fontSize=26,
                                 color="#808080").encode(x=alt.value(9), y=alt.value(-9)),
    ]
    layers += list(extra)
    layers += decorations(letter, h, xax)
    return alt.layer(*layers).resolve_scale(y="independent").properties(width=W, height=h)


ax_c = x_axis()
panel_c = index_panel("c", "Main Gauge (1929 m)", H_C, DIEL_C, DIEL_ENV_C, DIEL_SPIKES_C, NDSI_C, EVI_C,
                      BOXES_C, [-0.65, 0.65], [-0.6, -0.4, -0.2, 0, 0.2, 0.4, 0.6],
                      [0.14, 0.245], [0.14, 0.16, 0.18, 0.2, 0.22, 0.24], (-26, 290), (1253, -23, 293),
                      ax_c)

ax_d = x_axis(labels=True, title="Year")
years = alt.Chart(frame(YEAR_LABELS, "day", "label")).mark_text(
    fontSize=26, color=TXT, align="center", baseline="middle").encode(
    x=alt.X("date:T", scale=XSCALE, axis=ax_d), y=alt.value(H_D + 50), text="label:N")
panel_d = index_panel("d", "Independence Creek (2134 m)", H_D, DIEL_D, DIEL_ENV_D, DIEL_SPIKES_D, NDSI_D,
                      EVI_D, BOXES_D, [-0.5, 0.9], [-0.4, -0.2, 0, 0.2, 0.4, 0.6, 0.8],
                      [0.14, 0.18475], [0.14, 0.15, 0.16, 0.17, 0.18], (-12, 310), (1251, -22, 312),
                      ax_d, extra=[years])

# plot-area gaps: a->b 50 px, b->c and c->d 77 px (24 + spacer + 24)
chart = alt.vconcat(
    panel_a, spacer(2), panel_b, spacer(29), panel_c, spacer(29), panel_d,
    spacing=24, bounds="flush",
    background=BG,
    padding={"left": 12, "top": 5, "right": 0, "bottom": 0},
).configure(font=FONT).configure_view(stroke=FRAME, strokeWidth=2)

chart.save("out.html", embed_options={"renderer": "svg", "actions": False})
